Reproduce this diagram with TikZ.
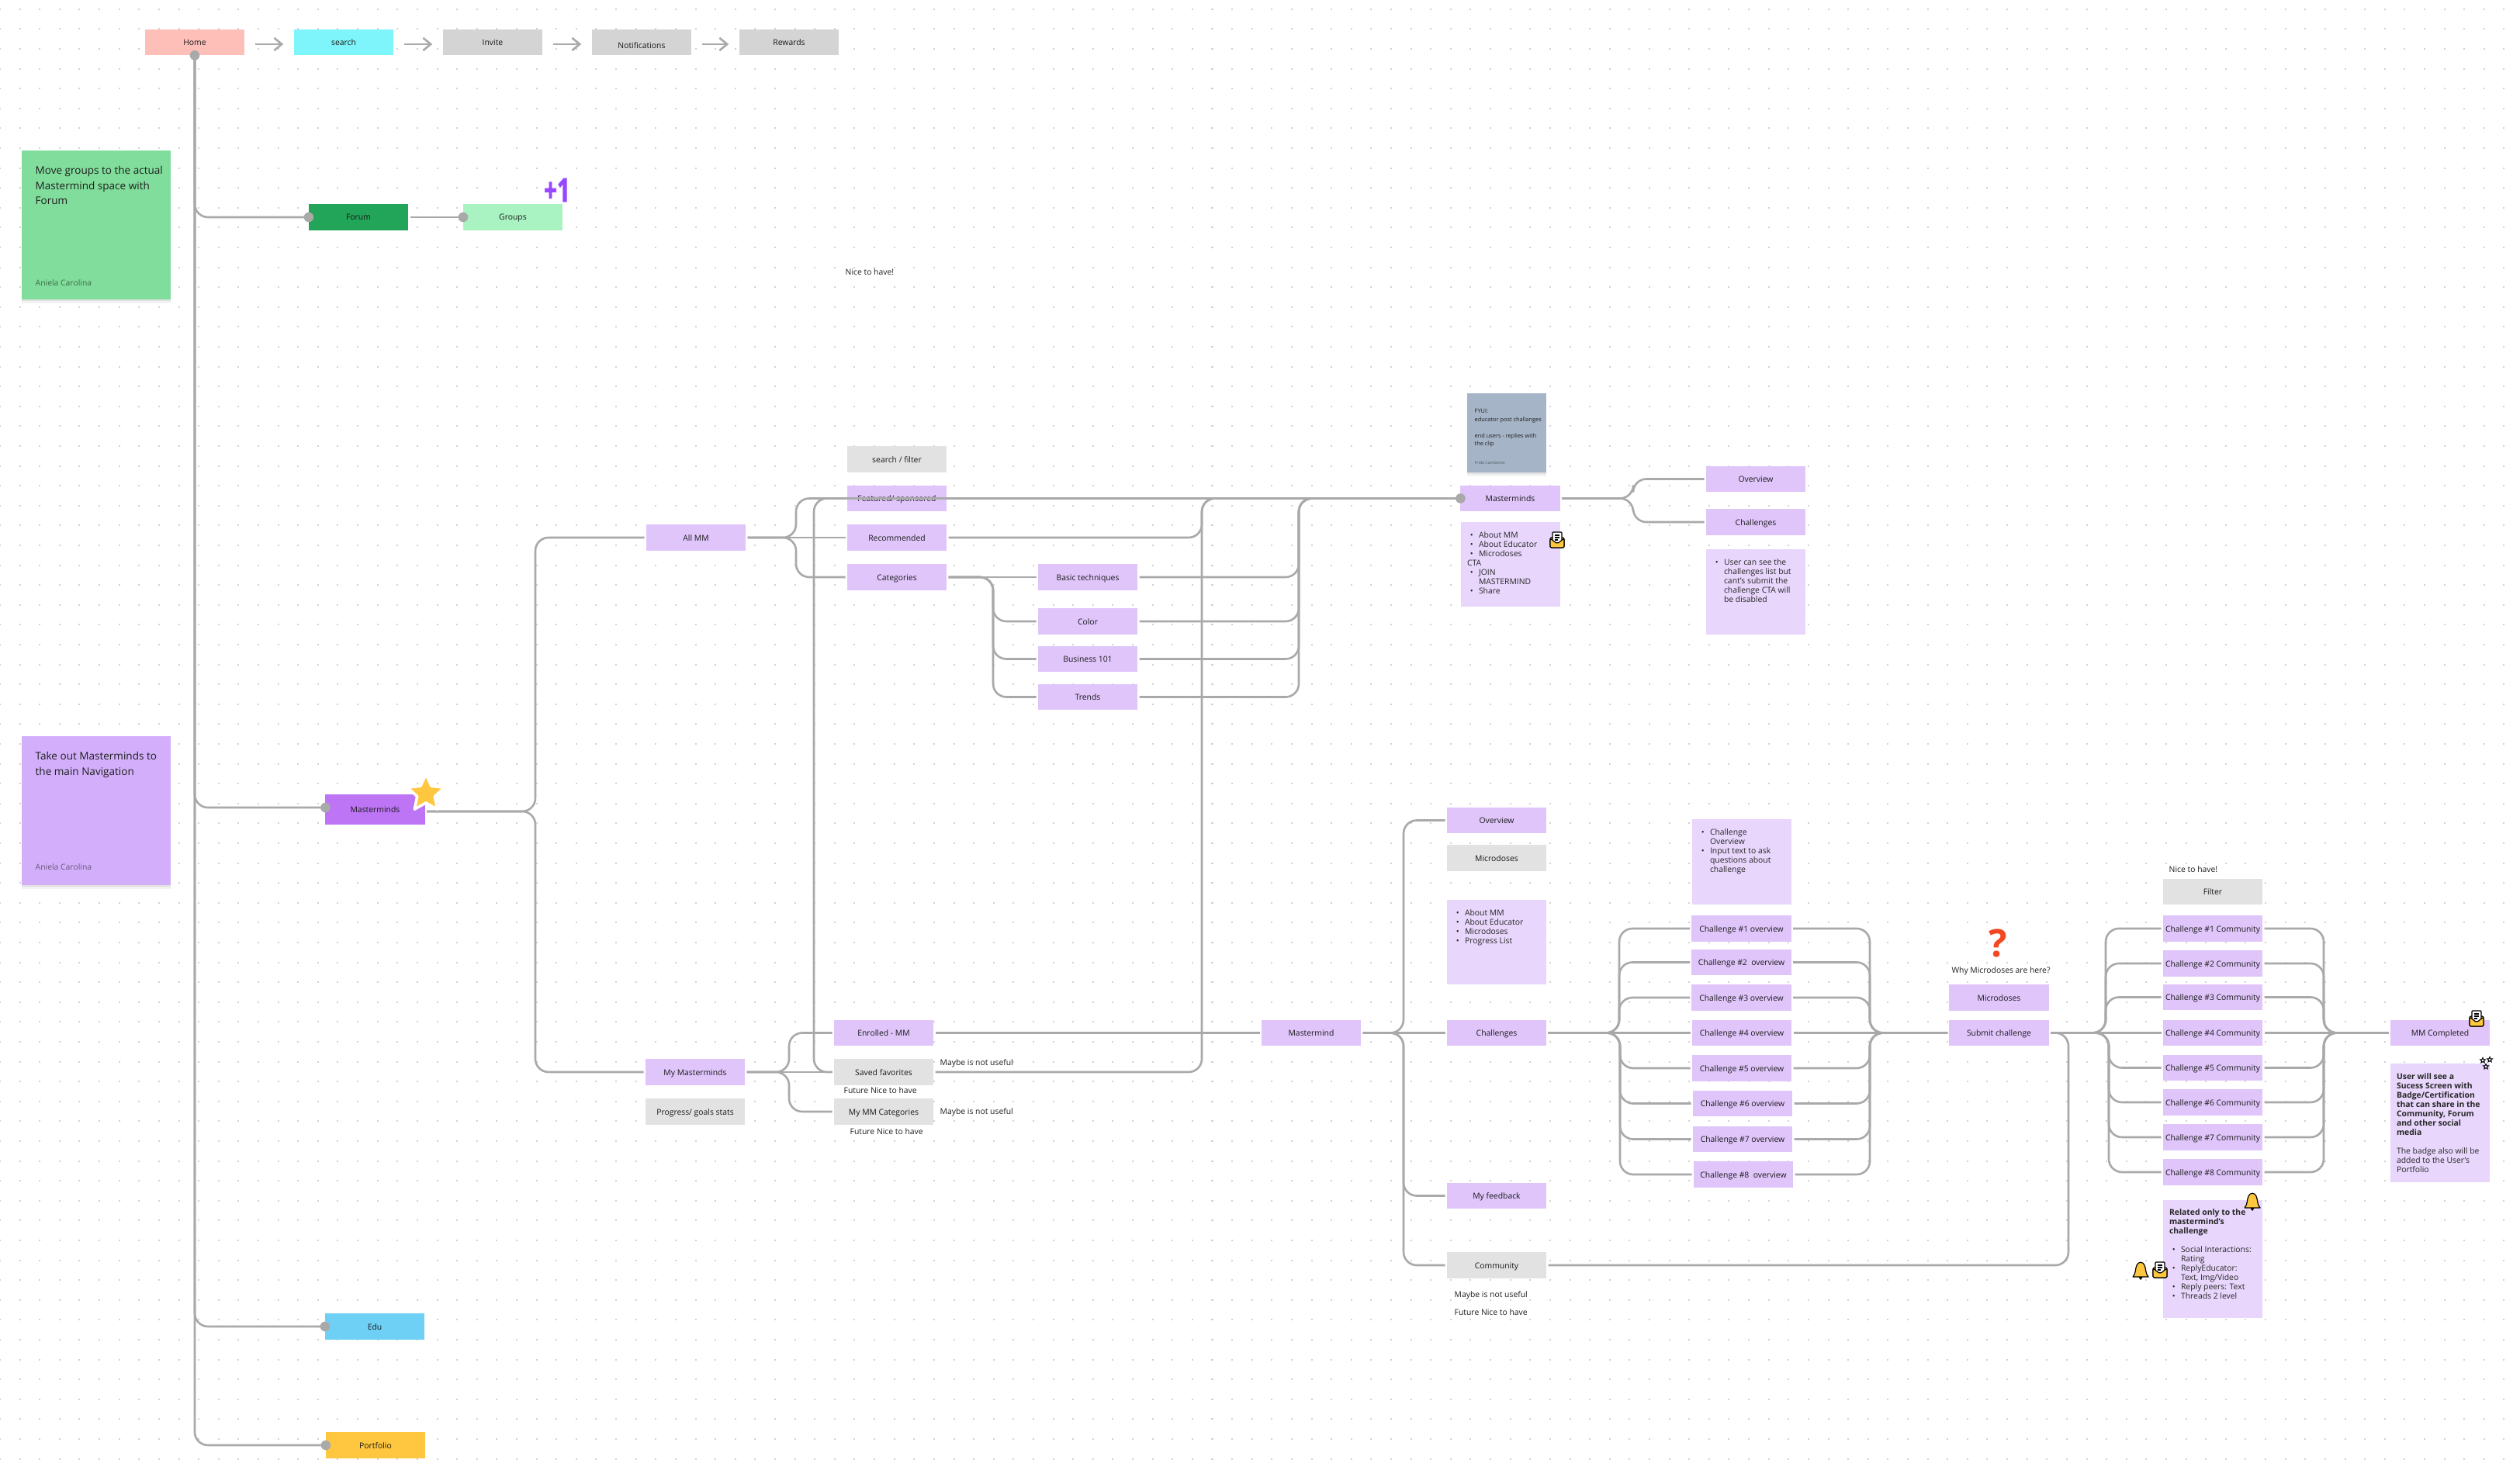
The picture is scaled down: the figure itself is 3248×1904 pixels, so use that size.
\documentclass[tikz,border=0pt]{standalone}
\usepackage{fontspec}
\setmainfont{Open Sans}
\usetikzlibrary{arrows.meta,shapes.geometric,shadows}
\definecolor{linegrey}{HTML}{A9A9A9}
\definecolor{griddot}{HTML}{D2D2D2}
\definecolor{navgrey}{HTML}{D4D4D4}
\definecolor{softgrey}{HTML}{E2E2E2}
\definecolor{homepink}{HTML}{FFBFB9}
\definecolor{searchcyan}{HTML}{7EF5FA}
\definecolor{forumgreen}{HTML}{22A558}
\definecolor{groupsgreen}{HTML}{A8F3C1}
\definecolor{edublue}{HTML}{6FD0F6}
\definecolor{gold}{HTML}{FFC73F}
\definecolor{mmstrong}{HTML}{BD75F5}
\definecolor{mmviolet}{HTML}{E0C5FB}
\definecolor{mmnote}{HTML}{E8D6FC}
\definecolor{stickygreen}{HTML}{80DD9B}
\definecolor{stickyviolet}{HTML}{D3AFFB}
\definecolor{stickyslate}{HTML}{A5B4C7}
\definecolor{plusviolet}{HTML}{9747FF}
\definecolor{askred}{HTML}{F24822}
\newcommand{\boxfont}{\fontsize{2.95}{3.4}\selectfont}
\newcommand{\notefont}{\fontsize{2.95}{3.41}\selectfont}
\newcommand{\bul}{\makebox[4.27pt][l]{\hspace{1.1pt}\textbullet}}
\newcommand{\ind}{\hspace*{4.27pt}}
% elbow from the east side of #1, along x=#2, into the west side of #3
\newcommand{\branch}[3]{\draw[link] (#1.east) -- (#2,0 |- #1.east) -- (#2,0 |- #3.west) -- (#3.west);}
\tikzset{
  link/.style={draw=linegrey,line width=.026cm,rounded corners=.17cm},
  flow/.style={draw=linegrey,line width=.026cm,-{Straight Barb[length=2.8pt,width=4.6pt]},shorten <=3.2pt,shorten >=3.2pt},
  griddots/.style={griddot,line width=.02cm,dash pattern=on .02cm off .236cm,dash phase=.01cm},
  mapbox/.style={rectangle,fill=#1,minimum width=1.28cm,minimum height=.337cm,inner sep=0pt,outer sep=.7pt,font=\boxfont,text=black!90,text height=2.6pt,text depth=.32pt},
  mapbox/.default=mmviolet,
  notebox/.style={rectangle,fill=mmnote,minimum width=1.28cm,anchor=north west,inner sep=0pt,outer sep=0pt},
  notetext/.style={anchor=north west,align=left,font=\notefont,text=black!85,inner xsep=.08cm,inner ysep=.13cm,outer sep=0pt},
  sticky/.style={rectangle,fill=#1,anchor=north west,minimum width=1.92cm,minimum height=1.92cm,inner sep=0pt,outer sep=0pt,
    drop shadow={shadow xshift=0pt,shadow yshift=-.6pt,opacity=.07,fill=black},
    drop shadow={shadow xshift=0pt,shadow yshift=-1.4pt,opacity=.05,fill=black}},
  stickytext/.style={anchor=north west,align=left,inner sep=0pt,font=\fontsize{3.85}{5.5}\selectfont,text=black!88},
  stickyname/.style={anchor=west,inner sep=0pt,font=\fontsize{2.95}{3.4}\selectfont,text=black,text opacity=.5},
  remark/.style={inner sep=0pt,font=\boxfont,text=black!88,yshift=-.25pt},
  envmail/.pic={
    \draw[black,line width=.012cm,fill=gold,rounded corners=.02cm] (-9,-3) rectangle (9,10);
    \draw[black,line width=.012cm,fill=white,rounded corners=.01cm] (-6,4) -- (-6,-10) -- (6,-10) -- (6,4);
    \draw[black,line width=.012cm] (-3,-6) -- (3,-6) (-3,-3) -- (3,-3) (-3,0) -- (1,0);
    \draw[black,line width=.012cm,fill=gold,rounded corners=.02cm] (-9,-2) -- (0,5) -- (9,-2) -- (9,10) -- (-9,10) -- cycle;
  },
  bellicon/.pic={
    \draw[black,line width=.012cm,fill=black] (-2,9) -- (2,9) -- (0,12) -- cycle;
    \draw[black,line width=.012cm,fill=gold,line join=round] (-10,9) .. controls (-6,5) and (-7,-2) .. (-5,-6) .. controls (-3,-11) and (3,-11) .. (5,-6) .. controls (7,-2) and (6,5) .. (10,9) -- cycle;
  },
}
\begin{document}
\begin{tikzpicture}[x=0.01cm,y=-0.01cm]
  \useasboundingbox (0,0) rectangle (3248,1904);
  \fill[white] (0,0) rectangle (3248,1904);
  \foreach \j in {0,...,73} {
    \pgfmathsetmacro{\yy}{11.8+25.6*\j};
    \draw[griddots] (0,\yy) -- (3248,\yy);
  }

  % stickies
  \node at (28,194) [sticky=stickygreen] (stickyforum) {};
  \node at (45,214) [stickytext] (stickyforumtext) {Move groups to the actual\\Mastermind space with\\Forum};
  \node at (45,365) [stickyname] (stickyforumname) {Aniela Carolina};
  \node at (28,949) [sticky=stickyviolet] (stickymm) {};
  \node at (45,969) [stickytext] (stickymmtext) {Take out Masterminds to\\the main Navigation};
  \node at (45,1118) [stickyname] (stickymmname) {Aniela Carolina};
  \node at (1891,507) [sticky=stickyslate,minimum width=1.02cm,minimum height=1.02cm] (stickyfyi) {};
  \node at (1900,527) [stickytext,font=\fontsize{2.1}{2.95}\selectfont] (stickyfyitext) {FYUI:\\educator post challanges\\[2.95pt]end users - replies with\\the clip};
  \node at (1900,597) [stickyname,font=\fontsize{1.5}{2}\selectfont] (stickyfyiname) {Frida Camberos};

  % top navigation
  \node at (251,54.5) [mapbox=homepink] (home) {Home};
  \node at (443,54.5) [mapbox=searchcyan] (search) {search};
  \node at (635,54.5) [mapbox=navgrey] (invite) {Invite};
  \node at (827,54.5) [mapbox=navgrey] (notifications) {\raisebox{-1.2pt}{Notifications}};
  \node at (1017,54.5) [mapbox=navgrey] (rewards) {Rewards};
  \foreach \a/\b in {home/search,search/invite,invite/notifications,notifications/rewards}
    \draw[flow] ([yshift=-.7pt]\a.east) -- ([yshift=-.7pt]\b.west);

  % left column
  \node at (462,280) [mapbox=forumgreen] (forum) {Forum};
  \node at (661,280) [mapbox=groupsgreen] (groups) {Groups};
  \node at (483.5,1043.5) [mapbox=mmstrong,minimum height=.39cm] (mmmain) {Masterminds};
  \coordinate (mmin) at ([yshift=.7pt]mmmain.west);
  \coordinate (mmout) at ([yshift=-.7pt]mmmain.east);
  \node at (483,1710) [mapbox=edublue] (edu) {Edu};
  \node at (484,1863) [mapbox=gold] (portfolio) {Portfolio};

  % all masterminds
  \node at (897,693) [mapbox] (allmm) {All MM};
  \node at (1156,592) [mapbox=softgrey] (searchfilter) {search / filter};
  \node at (1156,642.5) [mapbox] (featured) {Featured/ sponsored};
  \node at (1156,693) [mapbox] (recommended) {Recommended};
  \node at (1156,744) [mapbox] (categories) {Categories};
  \node at (1402,744) [mapbox] (basic) {Basic techniques};
  \node at (1402,801) [mapbox] (color) {Color};
  \node at (1402,849.5) [mapbox] (business) {Business 101};
  \node at (1402,898.5) [mapbox] (trends) {Trends};

  % masterminds page
  \node at (1946.5,642.5) [mapbox] (mmtop) {Masterminds};
  \node at (2263,617.5) [mapbox] (mmoverview) {Overview};
  \node at (2263,673) [mapbox] (mmchallenges) {Challenges};
  \node at (1883,673) [notebox,minimum height=1.09cm] (aboutnote) {};
  \node at (aboutnote.north west) [notetext] (abouttext) {\bul About MM\\\bul About Educator\\\bul Microdoses\\CTA\\\bul JOIN\\\ind MASTERMIND\\\bul Share};
  \node at (2199,708) [notebox,minimum height=1.1cm] (usernote) {};
  \node at (usernote.north west) [notetext] (usertext) {\bul User can see the\\\ind challenges list but\\\ind cant's submit the\\\ind challenge CTA will\\\ind be disabled};

  % my masterminds
  \node at (896,1382) [mapbox] (mymm) {My Masterminds};
  \node at (896,1433) [mapbox=softgrey] (stats) {Progress/ goals stats};
  \node at (1139,1331.5) [mapbox] (enrolled) {Enrolled - MM};
  \node at (1139,1382) [mapbox=softgrey] (saved) {Saved favorites};
  \node at (1139,1433) [mapbox=softgrey] (mycats) {My MM Categories};
  \node at (1211,1370) [remark,anchor=west] (maybea) {Maybe is not useful};
  \node at (1211,1433) [remark,anchor=west] (maybeb) {Maybe is not useful};
  \node at (1087,1405) [remark,anchor=west] (futurea) {Future Nice to have};
  \node at (1095,1458) [remark,anchor=west] (futureb) {Future Nice to have};
  \node at (1690,1331.5) [mapbox] (mastermind) {Mastermind};

  % enrolled page
  \node at (1929,1057.5) [mapbox] (overview) {Overview};
  \node at (1929,1106) [mapbox=softgrey] (microa) {Microdoses};
  \node at (1865,1160) [notebox,minimum height=1.09cm] (aboutmmnote) {};
  \node at (aboutmmnote.north west) [notetext] (aboutmmtext) {\bul About MM\\\bul About Educator\\\bul Microdoses\\\bul Progress List};
  \node at (1929,1331.5) [mapbox] (challenges) {Challenges};
  \node at (1929,1541.5) [mapbox] (feedback) {My feedback};
  \node at (1929,1631) [mapbox=softgrey] (community) {Community};
  \node at (1874,1669) [remark,anchor=west] (maybec) {Maybe is not useful};
  \node at (1874,1691) [remark,anchor=west] (futurec) {Future Nice to have};
  \node at (2181,1056) [notebox,minimum height=1.1cm] (chalnote) {};
  \node at (chalnote.north west) [notetext] (chaltext) {\bul Challenge\\\ind Overview\\\bul Input text to ask\\\ind questions about\\\ind challenge};
  \foreach \k/\cx/\cy/\gap in {1/2244.5/1197/{},2/2244.5/1240.5/\ ,3/2244.5/1286/{},4/2245/1331.5/{},5/2245/1377/{},6/2246/1422.5/{},7/2246/1468.5/{},8/2247/1514/\ }
    \node at (\cx,\cy) [mapbox] (chal\k) {Challenge \#\k\gap{} overview};

  % submit
  \node at (2576.5,1286) [mapbox] (microb) {Microdoses};
  \node at (2576.5,1331.5) [mapbox] (submit) {Submit challenge};
  \node at (2579,1251) [remark] (whymicro) {Why Microdoses are here?};
  \node at (2575,1216) [inner sep=0pt,fill=white,rounded corners=.1cm,text=askred,font=\bfseries\fontsize{14}{14}\selectfont] (askmark) {?};
  \node at (2852,1149.5) [mapbox=softgrey] (filter) {Filter};
  \node at (2795,1120) [remark,anchor=west] (niceb) {Nice to have!};
  \foreach \k/\cy in {1/1197,2/1242,3/1285.5,4/1331.5,5/1376.5,6/1421,7/1466,8/1511}
    \node at (2852,\cy) [mapbox] (com\k) {Challenge \#\k{} Community};
  \node at (3145,1331.5) [mapbox] (done) {MM Completed};
  \node at (2788,1547) [notebox,minimum height=1.52cm] (relatednote) {};
  \node at (relatednote.north west) [notetext,inner ysep=.12cm] (relatedtext) {\textbf{Related only to the}\\\textbf{mastermind's}\\\textbf{challenge}\\[3.41pt]\bul Social Interactions:\\\ind Rating\\\bul ReplyEducator:\\\ind Text, Img/Video\\\bul Reply peers: Text\\\bul Threads 2 level};
  \node at (3081,1371) [notebox,minimum height=1.53cm] (badgenote) {};
  \node at (badgenote.north west) [notetext,inner ysep=.125cm] (badgetext) {\textbf{User will see a}\\\textbf{Sucess Screen with}\\\textbf{Badge/Certification}\\\textbf{that can share in the}\\\textbf{Community, Forum}\\\textbf{and other social}\\\textbf{media}\\[3.41pt]The badge also will be\\added to the User's\\Portfolio};
  \node at (1089,350) [remark,anchor=west] (nicea) {Nice to have!};

  % connectors
  \foreach \t in {forum,edu,portfolio}
    \draw[link] (home.south) |- (\t.west);
  \draw[link] (home.south) |- (mmin);
  \draw[link] (forum.east) -- (groups.west);
  \branch{mmout}{690}{allmm}
  \branch{mmout}{690}{mymm}
  \branch{allmm}{1026}{mmtop}
  \draw[link] (allmm.east) -- (recommended.west);
  \branch{allmm}{1026}{categories}
  \branch{recommended}{1549}{mmtop}
  \draw[link] (categories.east) -- (basic.west);
  \foreach \t in {color,business,trends} {
    \branch{categories}{1280}{\t}
  }
  \foreach \t in {basic,color,business,trends} {
    \branch{\t}{1674}{mmtop}
  }
  \branch{mymm}{1017}{enrolled}
  \draw[link] (mymm.east) -- (saved.west);
  \branch{mymm}{1017}{mycats}
  \draw[link] (saved.west) -- (1049,0 |- saved.west) -- (1049,0 |- mmtop.west) -- (mmtop.west);
  \branch{saved}{1549}{mmtop}
  \draw[link] (enrolled.east) -- (mastermind.west);
  \branch{mmtop}{2105}{mmoverview}
  \branch{mmtop}{2105}{mmchallenges}
  \draw[link] (mastermind.east) -- (challenges.west);
  \foreach \t in {overview,feedback,community} {
    \branch{mastermind}{1809}{\t}
  }
  \draw[link] (challenges.east) -- (chal4.west);
  \draw[link] (chal4.east) -- (submit.west);
  \foreach \k/\vx in {1/2087,2/2087,3/2087,5/2088,6/2088,7/2088,8/2088} {
    \branch{challenges}{\vx}{chal\k}
    \branch{chal\k}{2410}{submit}
  }
  \draw[link] (community.east) -- (2666,0 |- community.east) -- (2666,0 |- submit.east) -- (submit.east);
  \draw[link] (submit.east) -- (com4.west);
  \draw[link] (com4.east) -- (done.west);
  \foreach \k/\vx in {1/2714,2/2714,3/2714,5/2718,6/2718,7/2718,8/2718} {
    \branch{submit}{\vx}{com\k}
    \branch{com\k}{2995}{done}
  }
  \foreach \t in {forum,groups,edu,portfolio,mmtop}
    \fill[linegrey] ([xshift=.7pt]\t.west) circle (6.3);
  \fill[linegrey] ([xshift=.7pt]mmin) circle (6.3);
  \fill[linegrey] ([yshift=.7pt]home.south) circle (6.3);

  % stickers
  \node at (718,245) [inner sep=.3pt,fill=white,rounded corners=.05cm,text=plusviolet,font=\bfseries\fontsize{12}{12}\selectfont\addfontfeature{FakeBold=2}] (plusone) {\scalebox{.7}[1]{+1}};
  \node at (549,1023) [star,star points=5,star point ratio=2.1,minimum size=.5cm,inner sep=0pt,fill=gold,draw=white,line width=.035cm,line join=round] (starmark) {};
  \pic at (2007,696) {envmail};
  \pic at (3192,1313) {envmail};
  \pic at (2784,1637) {envmail};
  \pic at (2903,1548) {bellicon};
  \pic at (2759,1637) {bellicon};
  \foreach \k/\sx/\sy in {1/3200/1367,2/3209/1366,3/3204/1375}
    \node at (\sx,\sy) [star,star points=5,star point ratio=2.2,minimum size=.07cm,inner sep=0pt,fill=white,draw=black,line width=.01cm] (spark\k) {};
\end{tikzpicture}
\end{document}
